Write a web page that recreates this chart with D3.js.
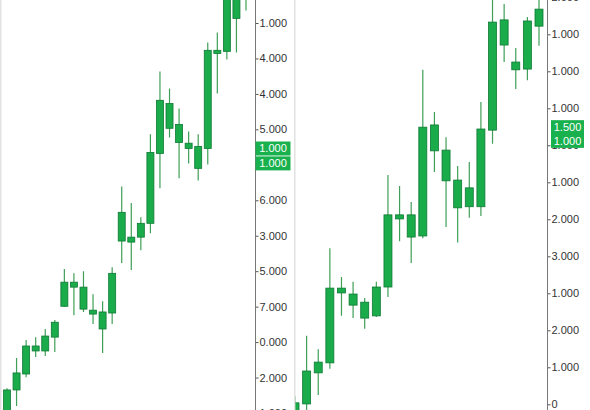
<!DOCTYPE html>
<html>
<head>
<meta charset="utf-8">
<script src="https://cdn.jsdelivr.net/npm/d3@7"></script>
<style>
  html, body { margin: 0; padding: 0; background: #fff; }
  svg { display: block; }
</style>
</head>
<body>
<div id="chart"></div>
<script>
// left panel candles (values in tick units, bottom tick = 0)
var leftOpen  = [-0.06, 0.65, 1.10, 1.75, 1.75, 2.14, 3.01, 3.55, 2.93, 2.79, 2.37, 2.82, 4.85, 4.82, 4.96, 5.35, 7.32, 8.03, 7.63, 7.46, 6.90, 7.46, 10.14, 10.20, 11.13, 11.72];
var leftHigh  = [0.70, 1.55, 2.06, 2.14, 2.37, 2.62, 4.06, 3.94, 4.00, 3.35, 3.15, 4.11, 6.39, 5.92, 5.52, 7.86, 9.63, 9.15, 8.59, 7.94, 7.86, 10.45, 10.73, 12.20, 12.76, 12.90];
var leftLow   = [-0.20, 0.20, 1.01, 1.58, 1.61, 1.72, 2.99, 2.76, 2.85, 2.51, 1.69, 2.51, 4.23, 4.03, 4.59, 5.07, 6.34, 7.77, 6.62, 7.04, 6.56, 7.01, 9.01, 9.97, 10.17, 11.35];
var leftClose = [0.65, 1.13, 1.89, 1.89, 2.17, 2.56, 3.69, 3.69, 3.55, 2.90, 2.85, 3.94, 5.66, 4.96, 5.35, 7.35, 8.82, 8.73, 8.14, 7.61, 7.52, 10.23, 10.23, 11.92, 12.48, 12.48];

// right panel candles
var rightOpen  = [-0.37, 0.01, 0.85, 1.12, 3.01, 2.68, 2.33, 2.39, 3.17, 5.01, 4.52, 4.55, 6.85, 6.04, 5.31, 5.34, 5.34, 7.41, 9.71, 9.04, 9.06, 10.22];
var rightHigh  = [0.22, 1.85, 1.49, 4.22, 3.44, 3.31, 2.87, 3.31, 6.20, 5.90, 5.47, 9.04, 7.90, 7.22, 6.44, 6.55, 8.17, 11.14, 10.82, 9.63, 10.47, 11.09];
var rightLow   = [-0.56, -0.21, 0.25, 0.96, 2.39, 2.33, 2.04, 2.36, 2.90, 4.41, 3.82, 4.49, 6.28, 4.79, 4.37, 5.04, 5.09, 7.04, 9.25, 8.52, 8.76, 9.69];
var rightClose = [0.04, 0.90, 1.14, 3.14, 3.14, 2.98, 2.76, 3.17, 5.12, 5.12, 5.12, 7.49, 7.55, 6.87, 6.06, 5.85, 7.44, 10.33, 10.39, 9.25, 10.36, 10.68];

// axis tick labels, bottom to top
var leftTickLabels  = ["1.000", "2.000", "0.000", "7.000", "5.000", "3.000", "6.000", "1.000", "5.000", "4.000", "4.000", "1.000"];
var rightTickLabels = ["0", "1.000", "2.000", "1.000", "3.000", "2.000", "1.000", "1.000", "1.000", "1.000", "1.000", "2.000"];

// last price badges
var leftBadgeValues  = [7.46, 7.04];
var leftBadgeLabels  = ["1.000", "1.000"];
var rightBadgeValues = [7.49, 7.12];
var rightBadgeLabels = ["1.500", "1.000"];

var width = 590, height = 410;
var fontFamily = "'Liberation Sans', Arial, sans-serif";

var svg = d3.select("#chart")
    .append("svg")
    .attr("width", width)
    .attr("height", height);

// panel borders
svg.append("rect")
    .attr("x", 0).attr("y", 0)
    .attr("width", 1.5).attr("height", height)
    .attr("fill", "#e2e2e2");
svg.append("rect")
    .attr("x", 294).attr("y", 0)
    .attr("width", 1.5).attr("height", height)
    .attr("fill", "#e2e2e2");

function makeRows(o, h, l, c) {
    return o.map(function(d, i) {
        return {i: i, open: o[i], high: h[i], low: l[i], close: c[i]};
    });
}

function drawPanel(p) {
    var rows = makeRows(p.open, p.high, p.low, p.close);

    var x = d3.scaleLinear()
        .domain([0, rows.length - 1])
        .range(p.xRange);
    var y = d3.scaleLinear()
        .domain([0, 11])
        .range(p.yRange);

    svg.append("clipPath")
        .attr("id", p.id + "-clip")
        .append("rect")
        .attr("x", p.clip[0]).attr("y", 0)
        .attr("width", p.clip[1] - p.clip[0]).attr("height", height);

    var g = svg.append("g")
        .attr("clip-path", "url(#" + p.id + "-clip)");

    g.selectAll("line.wick")
        .data(rows)
        .enter()
        .append("line")
        .attr("class", "wick")
        .attr("x1", function(d) { return x(d.i); })
        .attr("x2", function(d) { return x(d.i); })
        .attr("y1", function(d) { return y(d.high); })
        .attr("y2", function(d) { return y(d.low); })
        .attr("stroke", "#3f9f58")
        .attr("stroke-width", 1.2);

    g.selectAll("rect.body")
        .data(rows)
        .enter()
        .append("rect")
        .attr("class", "body")
        .attr("x", function(d) { return x(d.i) - p.bodyW / 2; })
        .attr("y", function(d) { return y(Math.max(d.open, d.close)); })
        .attr("width", p.bodyW)
        .attr("height", function(d) { return Math.max(1.5, Math.abs(y(d.open) - y(d.close))); })
        .attr("fill", "#1aab4b")
        .attr("stroke", "#0e7a33")
        .attr("stroke-width", 0.8);

    // axis
    var axis = d3.axisRight(y)
        .tickValues(d3.range(p.tickLabels.length))
        .tickFormat(function(d, i) { return p.tickLabels[i]; })
        .tickSize(3)
        .tickPadding(1);

    var ag = svg.append("g")
        .attr("transform", "translate(" + p.axisX + ",0)")
        .call(axis);
    ag.select(".domain").remove();
    ag.selectAll(".tick line").attr("stroke", "#555");
    ag.selectAll(".tick text")
        .attr("fill", "#333")
        .style("font-family", fontFamily)
        .style("font-size", "11px");

    svg.append("line")
        .attr("x1", p.axisX).attr("x2", p.axisX)
        .attr("y1", 0).attr("y2", height)
        .attr("stroke", "#777")
        .attr("stroke-width", 1);

    // badges
    var bg = svg.append("g");
    var badges = p.badgeValues.map(function(v, i) { return {v: v, label: p.badgeLabels[i]}; });
    bg.selectAll("rect")
        .data(badges)
        .enter()
        .append("rect")
        .attr("x", p.badgeX)
        .attr("y", function(d) { return y(d.v) - 7; })
        .attr("width", p.badgeW)
        .attr("height", 14)
        .attr("fill", "#19b04e");
    bg.selectAll("text")
        .data(badges)
        .enter()
        .append("text")
        .attr("x", p.badgeX + p.badgeW / 2)
        .attr("y", function(d) { return y(d.v); })
        .attr("dy", "0.35em")
        .attr("text-anchor", "middle")
        .attr("fill", "#fff")
        .style("font-family", fontFamily)
        .style("font-size", "11px")
        .text(function(d) { return d.label; });
}

drawPanel({
    id: "left",
    open: leftOpen, high: leftHigh, low: leftLow, close: leftClose,
    xRange: [7, 246],
    yRange: [413, 23],
    clip: [1.5, 255.5],
    bodyW: 7,
    axisX: 255.5,
    tickLabels: leftTickLabels,
    badgeValues: leftBadgeValues,
    badgeLabels: leftBadgeLabels,
    badgeX: 255.5,
    badgeW: 35
});

drawPanel({
    id: "right",
    open: rightOpen, high: rightHigh, low: rightLow, close: rightClose,
    xRange: [295, 539],
    yRange: [404.3, -2.7],
    clip: [295.5, 547.5],
    bodyW: 8,
    axisX: 547.5,
    tickLabels: rightTickLabels,
    badgeValues: rightBadgeValues,
    badgeLabels: rightBadgeLabels,
    badgeX: 551,
    badgeW: 33
});
</script>
</body>
</html>
